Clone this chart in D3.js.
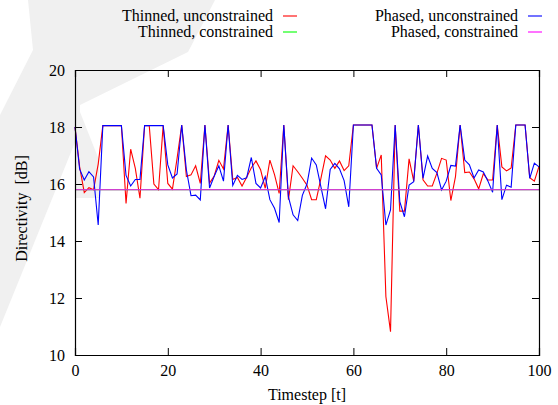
<!DOCTYPE html>
<html>
<head>
<meta charset="utf-8">
<script src="https://cdn.jsdelivr.net/npm/d3@7"></script>
<style>
  body { margin: 0; background: #fff; }
</style>
</head>
<body>
<script>
// directivity values per timestep (t = 0..100)
var thinnedUnconstrained = [
  18.0, 16.6, 15.7, 15.87, 15.8, 16.7, 18.05, 18.05, 18.05, 18.05,
  18.05, 15.32, 17.22, 16.55, 15.5, 18.05, 18.05, 16.0, 15.8, 18.05,
  16.02, 15.82, 16.9, 18.07, 16.26, 16.32, 16.64, 16.02, 18.07, 16.03,
  16.28, 16.83, 16.53, 18.07, 16.16, 16.23, 15.93, 16.24, 16.57, 16.81,
  16.5, 15.85, 16.84, 16.33, 15.67, 18.07, 15.45, 16.64, 16.43, 16.2,
  15.96, 15.45, 15.45, 16.2, 16.99, 16.84, 16.55, 16.81, 16.47, 16.64,
  18.07, 18.07, 18.07, 18.07, 18.07, 16.55, 17.02, 12.05, 10.82, 18.07,
  15.05, 15.05, 16.88, 16.1, 18.07, 16.15, 15.93, 15.93, 16.38, 16.9,
  16.84, 15.42, 16.26, 18.07, 16.4, 16.42, 16.18, 15.83, 16.36, 16.14,
  16.14, 18.07, 16.6, 16.46, 16.56, 18.07, 18.07, 18.07, 16.22, 16.1,
  16.62
];
var phasedUnconstrained = [
  18.0, 16.52, 16.14, 16.43, 16.25, 14.56, 18.05, 18.05, 18.05, 18.05,
  18.05, 16.3, 15.93, 16.16, 16.16, 18.05, 18.05, 18.05, 18.05, 18.05,
  16.67, 16.21, 16.35, 18.07, 16.5, 15.59, 15.61, 15.44, 18.07, 15.86,
  16.27, 16.64, 16.1, 18.07, 15.95, 16.3, 16.16, 16.22, 16.93, 16.02,
  15.86, 16.26, 15.45, 15.15, 14.65, 18.07, 15.55, 14.92, 14.72, 15.6,
  16.0, 16.91, 16.67, 15.9, 15.13, 16.51, 16.72, 16.53, 16.12, 15.2,
  18.07, 18.07, 18.07, 18.07, 18.07, 16.55, 16.32, 14.56, 15.09, 18.07,
  15.38, 14.85, 15.96, 16.08, 18.07, 16.2, 16.98, 16.55, 16.4, 15.79,
  16.1, 16.65, 16.63, 18.07, 16.84, 16.67, 16.21, 16.49, 16.42, 16.1,
  15.71, 18.07, 15.45, 15.96, 15.89, 18.07, 18.07, 18.07, 16.2, 16.73,
  16.6
];
// constrained runs sit on the same flat level
var thinnedConstrained = [
  15.8, 15.8, 15.8, 15.8, 15.8, 15.8, 15.8, 15.8, 15.8, 15.8,
  15.8, 15.8, 15.8, 15.8, 15.8, 15.8, 15.8, 15.8, 15.8, 15.8,
  15.8, 15.8, 15.8, 15.8, 15.8, 15.8, 15.8, 15.8, 15.8, 15.8,
  15.8, 15.8, 15.8, 15.8, 15.8, 15.8, 15.8, 15.8, 15.8, 15.8,
  15.8, 15.8, 15.8, 15.8, 15.8, 15.8, 15.8, 15.8, 15.8, 15.8,
  15.8, 15.8, 15.8, 15.8, 15.8, 15.8, 15.8, 15.8, 15.8, 15.8,
  15.8, 15.8, 15.8, 15.8, 15.8, 15.8, 15.8, 15.8, 15.8, 15.8,
  15.8, 15.8, 15.8, 15.8, 15.8, 15.8, 15.8, 15.8, 15.8, 15.8,
  15.8, 15.8, 15.8, 15.8, 15.8, 15.8, 15.8, 15.8, 15.8, 15.8,
  15.8, 15.8, 15.8, 15.8, 15.8, 15.8, 15.8, 15.8, 15.8, 15.8,
  15.8
];
var phasedConstrained = thinnedConstrained.slice();

var xTicks = [0, 20, 40, 60, 80, 100];
var yTicks = [10, 12, 14, 16, 18, 20];

var series = [
  {name: "Thinned, unconstrained", values: thinnedUnconstrained, color: "#ff0000", col: 0, row: 0},
  {name: "Thinned, constrained",   values: thinnedConstrained,   color: "#00ff00", col: 0, row: 1},
  {name: "Phased, unconstrained",  values: phasedUnconstrained,  color: "#0000ff", col: 1, row: 0},
  {name: "Phased, constrained",    values: phasedConstrained,    color: "#ff00ff", col: 1, row: 1}
];

var serif = "'Liberation Serif', serif";
var width = 558, height = 405;
var margin = {top: 70, right: 19, bottom: 50, left: 75};

var svg = d3.select("body").append("svg")
    .attr("width", width)
    .attr("height", height)
    .attr("font-family", serif)
    .attr("font-size", 16);

// faint grey watermark behind everything
svg.append("path")
    .attr("d", "M28,0 L215,0 L188,52 L80,105 L80,130 L0,327 L0,115 L33,50 Z")
    .style("fill", "#f0f0f0");
svg.append("path")
    .attr("d", "M75,110 L80,112 L99,160 L99,198 L75,198 Z")
    .style("fill", "#f0f0f0");

var x = d3.scaleLinear().domain([0, 100]).range([margin.left, width - margin.right]);
var y = d3.scaleLinear().domain([10, 20]).range([height - margin.bottom, margin.top]);

var line = d3.line()
    .x(function(d, i) { return x(i); })
    .y(function(d) { return y(d); });

// draw order: unconstrained first, constrained last (magenta on top)
var drawOrder = [series[0], series[2], series[1], series[3]];
svg.append("g")
  .selectAll("path")
    .data(drawOrder)
  .enter().append("path")
    .attr("d", function(d) { return line(d.values); })
    .style("fill", "none")
    .style("stroke", function(d) { return d.color; })
    .style("stroke-width", 1.1);

// axes, ticks inward and mirrored like gnuplot
var tick = -7;
var axes = [
  svg.append("g")
    .attr("transform", "translate(0," + y(10) + ")")
    .call(d3.axisBottom(x).tickValues(xTicks).tickSize(tick).tickPadding(10)),
  svg.append("g")
    .attr("transform", "translate(0," + y(20) + ")")
    .call(d3.axisTop(x).tickValues(xTicks).tickSize(tick).tickFormat("")),
  svg.append("g")
    .attr("transform", "translate(" + x(0) + ",0)")
    .call(d3.axisLeft(y).tickValues(yTicks).tickSize(tick).tickPadding(10)),
  svg.append("g")
    .attr("transform", "translate(" + x(100) + ",0)")
    .call(d3.axisRight(y).tickValues(yTicks).tickSize(tick).tickFormat(""))
];
axes.forEach(function(g) {
  g.attr("font-family", serif).attr("font-size", 16);
});

svg.selectAll(".domain").style("stroke", "#000").style("stroke-width", 1.2);
svg.selectAll(".tick line").style("stroke", "#000");

// axis titles
svg.append("text")
    .attr("x", (x(0) + x(100)) / 2)
    .attr("y", 400)
    .attr("text-anchor", "middle")
    .text("Timestep [t]");
svg.append("text")
    .attr("transform", "translate(27," + (y(15) - 4) + ") rotate(-90)")
    .attr("text-anchor", "middle")
    .text("Directivity \u00a0[dB]");

// legend, two columns across the top
var legendTextRight = [273, 518];
var legendY = [21, 37];
var legend = svg.append("g");
series.forEach(function(s) {
  var tx = legendTextRight[s.col], ty = legendY[s.row];
  legend.append("text")
      .attr("x", tx)
      .attr("y", ty)
      .attr("text-anchor", "end")
      .text(s.name);
  legend.append("line")
      .attr("x1", tx + 10).attr("x2", tx + 24)
      .attr("y1", ty - 5).attr("y2", ty - 5)
      .style("stroke", s.color)
      .style("stroke-width", 1.1);
});
</script>
</body>
</html>
